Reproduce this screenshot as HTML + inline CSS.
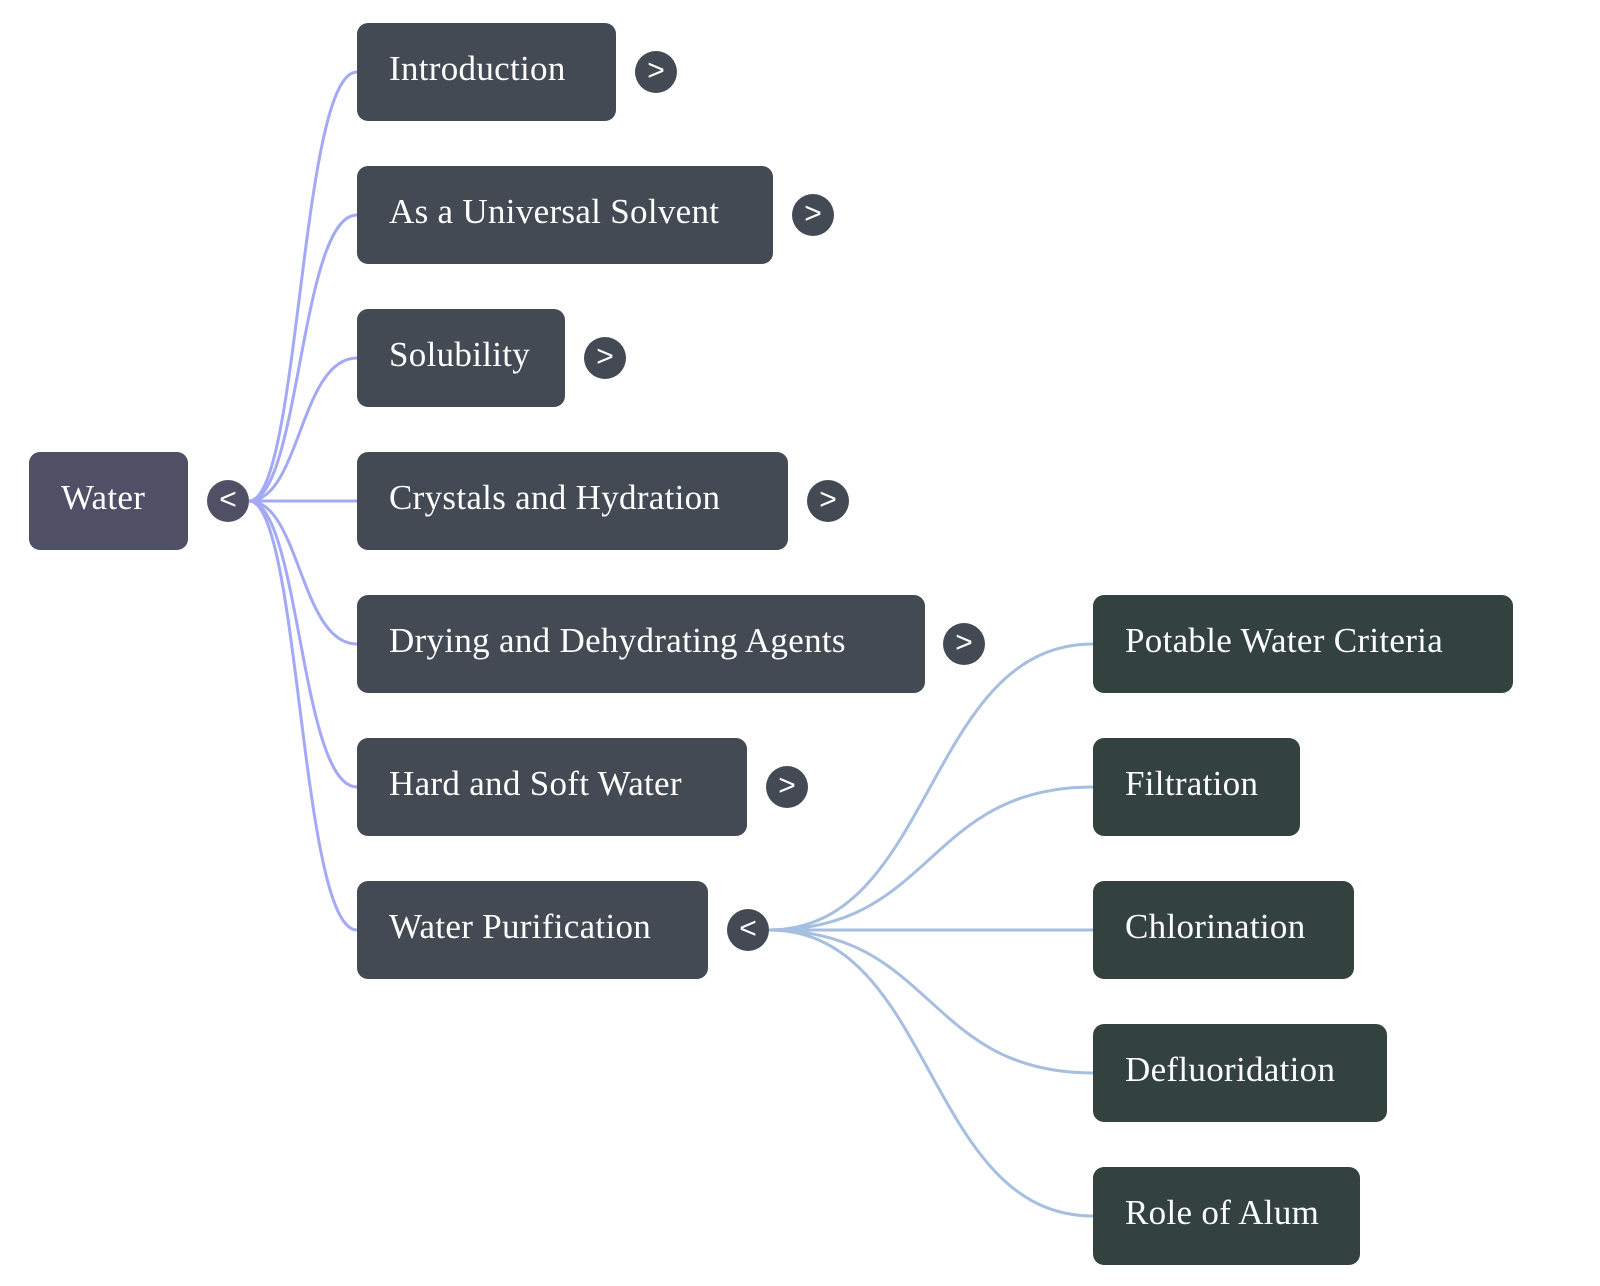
<!DOCTYPE html>
<html><head><style>
body{margin:0;width:1600px;height:1286px;background:#fff;overflow:hidden;position:relative;font-family:"Liberation Serif",serif}
.b{position:absolute;height:98px;border-radius:11px;color:#fff;font-size:35px;letter-spacing:0.3px;box-sizing:border-box;padding-left:32px;line-height:92px;white-space:nowrap}
.l1{background:#434a54}.l2{background:#33423e}
.c{position:absolute;width:42px;height:42px;border-radius:50%;background:#434a54;color:#fff;font-family:"Liberation Sans",sans-serif;font-size:30px;text-align:center;line-height:40px}
svg{position:absolute;left:0;top:0}
</style></head><body>
<svg width="1600" height="1286" fill="none">
<g stroke="#a3a9f5" stroke-width="3">
<path d="M249 501 C300 501 300 72 357 72"/>
<path d="M249 501 C300 501 300 215 357 215"/>
<path d="M249 501 C300 501 300 358 357 358"/>
<path d="M249 501 L357 501"/>
<path d="M249 501 C300 501 300 644 357 644"/>
<path d="M249 501 C300 501 300 787 357 787"/>
<path d="M249 501 C300 501 300 930 357 930"/>
</g>
<g stroke="#a6bfe0" stroke-width="3">
<path d="M769 930 C935 930 925 644 1093 644"/>
<path d="M769 930 C935 930 925 787 1093 787"/>
<path d="M769 930 L1093 930"/>
<path d="M769 930 C935 930 925 1073 1093 1073"/>
<path d="M769 930 C935 930 925 1216 1093 1216"/>
</g>
</svg>
<div class="b" style="left:29px;top:452px;width:159px;background:#4f5066">Water</div>
<div class="c" style="left:207px;top:480px;background:#4f5066">&lt;</div>
<div class="b l1" style="left:357px;top:23px;width:259px">Introduction</div>
<div class="c" style="left:635px;top:51px">&gt;</div>
<div class="b l1" style="left:357px;top:166px;width:416px">As a Universal Solvent</div>
<div class="c" style="left:792px;top:194px">&gt;</div>
<div class="b l1" style="left:357px;top:309px;width:208px">Solubility</div>
<div class="c" style="left:584px;top:337px">&gt;</div>
<div class="b l1" style="left:357px;top:452px;width:431px">Crystals and Hydration</div>
<div class="c" style="left:807px;top:480px">&gt;</div>
<div class="b l1" style="left:357px;top:595px;width:568px">Drying and Dehydrating Agents</div>
<div class="c" style="left:943px;top:623px">&gt;</div>
<div class="b l1" style="left:357px;top:738px;width:390px">Hard and Soft Water</div>
<div class="c" style="left:766px;top:766px">&gt;</div>
<div class="b l1" style="left:357px;top:881px;width:351px">Water Purification</div>
<div class="c" style="left:727px;top:909px">&lt;</div>
<div class="b l2" style="left:1093px;top:595px;width:420px">Potable Water Criteria</div>
<div class="b l2" style="left:1093px;top:738px;width:207px">Filtration</div>
<div class="b l2" style="left:1093px;top:881px;width:261px">Chlorination</div>
<div class="b l2" style="left:1093px;top:1024px;width:294px">Defluoridation</div>
<div class="b l2" style="left:1093px;top:1167px;width:267px">Role of Alum</div>
</body></html>
